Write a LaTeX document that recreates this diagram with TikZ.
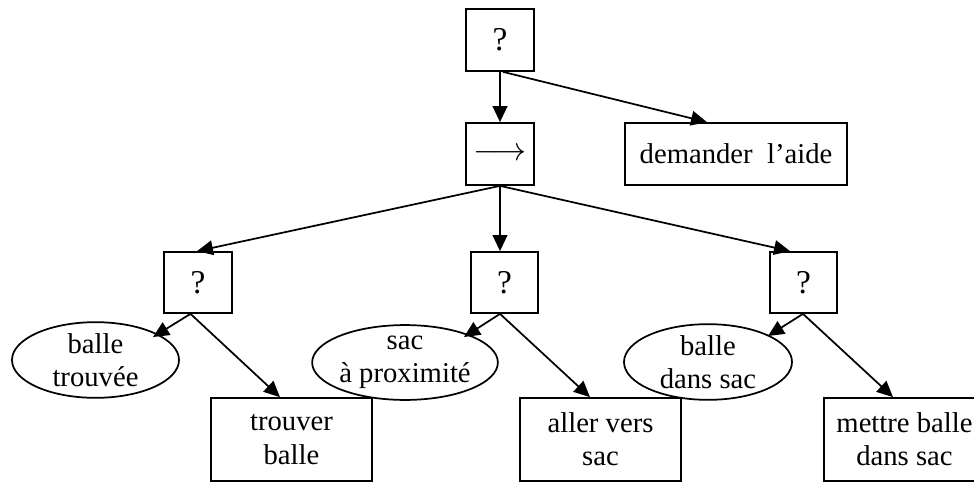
\documentclass[tikz,border=0pt]{standalone}
\usepackage{fontspec}
\setmainfont{Liberation Serif}
\usetikzlibrary{shapes.geometric,arrows.meta,calc}
\begin{document}
\begin{tikzpicture}[x=0.75pt,y=-0.75pt,
  every node/.style={font=\fontsize{21.5}{25}\selectfont, align=center, inner sep=0pt},
  box/.style={draw, line width=1.3pt, rectangle},
  qbox/.style={box, font=\fontsize{25}{28}\selectfont},
  oval/.style={draw, line width=1.3pt, ellipse},
  edge/.style={line width=1.3pt, -{Triangle[length=12pt,width=11pt]}}]
\useasboundingbox (0,0) rectangle (974,482);
\begin{scope}
\clip (0,0) rectangle (974,482);
\node[qbox, minimum width=68*0.75pt, minimum height=62*0.75pt] (top) at (500,40) {?};
\node[box, minimum width=68*0.75pt, minimum height=62*0.75pt] (seq) at (500,154) {\resizebox{40pt}{!}{$\longrightarrow$}};
\node[box, minimum width=222*0.75pt, minimum height=62*0.75pt] (dem) at (736,154) {demander\ \ l’aide};
\node[qbox, minimum width=68*0.75pt, minimum height=61*0.75pt] (q1) at (198,282.5) {?};
\node[qbox, minimum width=67*0.75pt, minimum height=61*0.75pt] (q2) at (504.5,282.5) {?};
\node[qbox, minimum width=67*0.75pt, minimum height=61*0.75pt] (q3) at (803.5,282.5) {?};
\node[oval, minimum width=167*0.75pt, minimum height=66*0.75pt] (e1) at (95.5,360) {balle\\trouvée};
\node[oval, minimum width=166*0.75pt, minimum height=69*0.75pt] (e2) at (405,362.5) {sac\\à proximité};
\node[oval, minimum width=168*0.75pt, minimum height=70*0.75pt] (e3) at (708,362) {balle\\dans sac};
\node[box, minimum width=161*0.75pt, minimum height=83*0.75pt] (b1) at (291.5,439.5) {trouver\\balle};
\node[box, minimum width=161*0.75pt, minimum height=83*0.75pt] (b2) at (600.5,439.5) {aller vers\\sac};
\node[box, minimum width=161*0.75pt, minimum height=83*0.75pt] (b3) at (904.5,439.5) {mettre balle\\dans sac};

\draw[edge] (top.south) -- (seq.north);
\draw[edge] ($(top.south)+(3,0)$) -- ($(dem.north)+(-29,0)$);
\draw[edge] (seq.south) -- ($(q1.north)+(-1,0)$);
\draw[edge] (seq.south) -- ($(q2.north)+(-4.5,0)$);
\draw[edge] (seq.south) -- ($(q3.north)+(-13.5,0)$);
\draw[edge] ($(q1.south)+(-7.5,0)$) -- ($(e1.center)+(57.5,-23)$);
\draw[edge] ($(q1.south)+(-7.5,0)$) -- ($(b1.north)+(-11.5,0)$);
\draw[edge] ($(q2.south)+(-4.5,0)$) -- ($(e2.center)+(59,-25.5)$);
\draw[edge] ($(q2.south)+(-4.5,0)$) -- ($(b2.north)+(-10.5,0)$);
\draw[edge] ($(q3.south)+(-0.5,0)$) -- ($(e3.center)+(60,-26)$);
\draw[edge] ($(q3.south)+(-0.5,0)$) -- ($(b3.north)+(-11.5,0)$);
\end{scope}
\end{tikzpicture}
\end{document}
